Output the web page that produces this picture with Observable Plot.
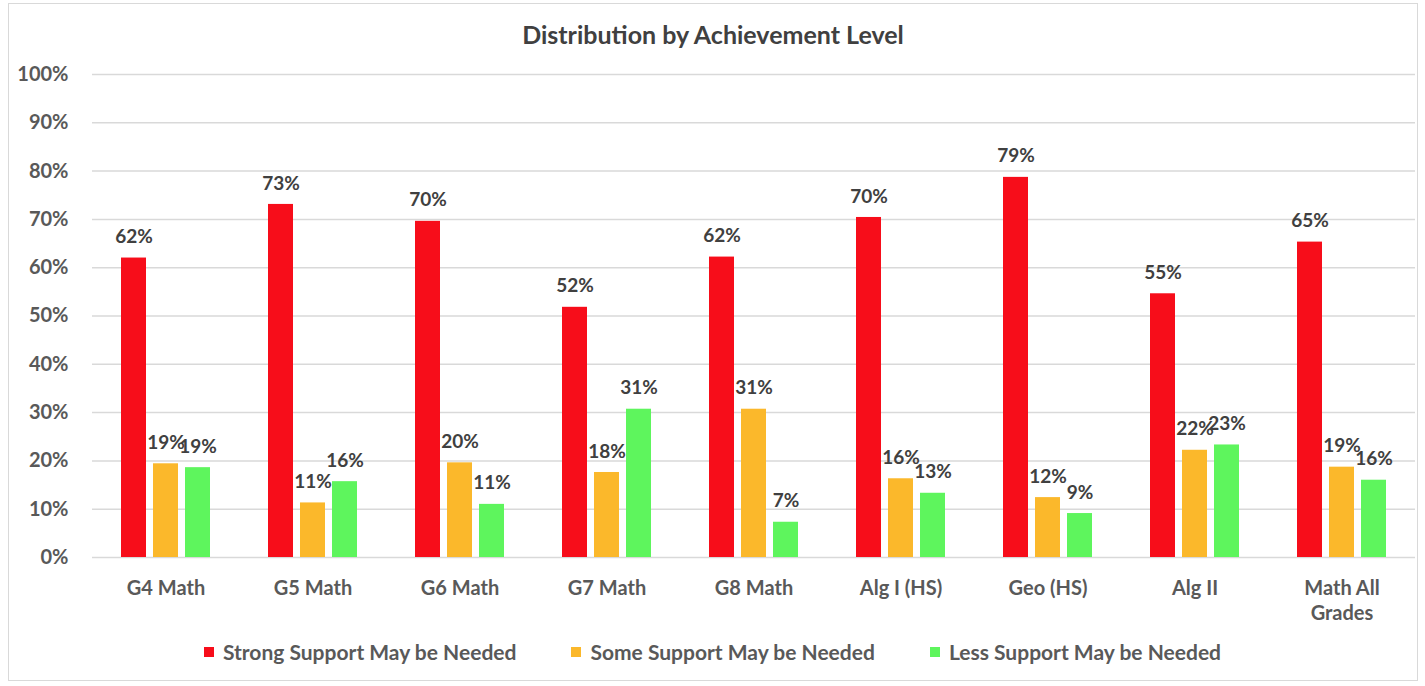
<!DOCTYPE html>
<html>
<head>
<meta charset="utf-8">
<script src="https://cdn.jsdelivr.net/npm/d3@7"></script>
<script src="https://cdn.jsdelivr.net/npm/@observablehq/plot@0.6"></script>
<style>
  html, body { margin: 0; padding: 0; background: #fff; }
  body { width: 1425px; height: 686px; position: relative; overflow: hidden; font-family: Lato, "Open Sans", sans-serif; }
  #frame { position: absolute; left: 8px; top: 3px; width: 1410px; height: 678px; border: 1px solid #d9d9d9; box-sizing: border-box; }
  #title { position: absolute; left: 8px; width: 1410px; top: 19px; text-align: center; font-weight: bold; font-size: 25px; color: #404040; }
  #chart { position: absolute; left: 0; top: 50px; }
  #legend { position: absolute; left: 0; width: 1425px; top: 639px; display: flex; justify-content: center; gap: 55px; font-weight: bold; font-size: 21px; color: #595959; }
  .item { display: flex; align-items: center; gap: 9px; }
  .sw { width: 10px; height: 10px; display: inline-block; }
</style>
</head>
<body>
<div id="frame"></div>
<div id="title">Distribution by Achievement Level</div>
<div id="chart"></div>
<div id="legend"></div>
<script>
const categories = ["G4 Math", "G5 Math", "G6 Math", "G7 Math", "G8 Math", "Alg I (HS)", "Geo (HS)", "Alg II", "Math All Grades"];
const series = ["Strong Support May be Needed", "Some Support May be Needed", "Less Support May be Needed"];
const strong = [62.0, 73.1, 69.6, 51.8, 62.2, 70.4, 78.7, 54.6, 65.3];
const some   = [19.4, 11.3, 19.6, 17.6, 30.7, 16.3, 12.4, 22.2, 18.7];
const less   = [18.6, 15.7, 11.0, 30.7,  7.3, 13.3,  9.1, 23.3, 16.0];
const colors = ["#f70d1a", "#fbb82b", "#5ef55d"];
const yTicks = [0, 10, 20, 30, 40, 50, 60, 70, 80, 90, 100];

const values = [strong, some, less];
const rows = [];
categories.forEach((c, i) => series.forEach((s, j) => rows.push({cat: c, series: s, value: values[j][i]})));

const chart = Plot.plot({
  width: 1425,
  height: 580,
  marginLeft: 88,
  marginRight: 7,
  marginTop: 24,
  marginBottom: 73,
  style: {fontFamily: "Lato, 'Open Sans', sans-serif", fontSize: "17px", fontWeight: "bold", color: "#595959", background: "transparent"},
  fx: {domain: categories, padding: 0, label: null},
  x: {domain: series, paddingInner: 0.21, paddingOuter: 0.845, axis: null},
  y: {domain: [0, 100], label: null},
  color: {domain: series, range: colors},
  marks: [
    Plot.gridY(yTicks, {stroke: "#d9d9d9", strokeOpacity: 1, strokeWidth: 1.5}),
    Plot.axisY(yTicks, {tickSize: 0, tickPadding: 24, tickFormat: d => d + "%", label: null, fill: "#595959", fontSize: 20}),
    Plot.axisFx({anchor: "bottom", tickSize: 0, tickPadding: 20, label: null, lineHeight: 1.25, fill: "#595959", fontSize: 20,
      tickFormat: d => d === "Math All Grades" ? "Math All\nGrades" : d}),
    Plot.barY(rows, {fx: "cat", x: "series", y: "value", fill: "series"}),
    Plot.text(rows, {fx: "cat", x: "series", y: "value", text: d => Math.round(d.value) + "%", dy: -21, fill: "#404040", fontSize: 19, fontWeight: "bold"})
  ]
});
document.getElementById("chart").appendChild(chart);

const legend = document.getElementById("legend");
series.forEach((s, i) => {
  const it = document.createElement("div");
  it.className = "item";
  const sw = document.createElement("span");
  sw.className = "sw";
  sw.style.background = colors[i];
  const t = document.createElement("span");
  t.textContent = s;
  it.appendChild(sw);
  it.appendChild(t);
  legend.appendChild(it);
});
</script>
</body>
</html>
